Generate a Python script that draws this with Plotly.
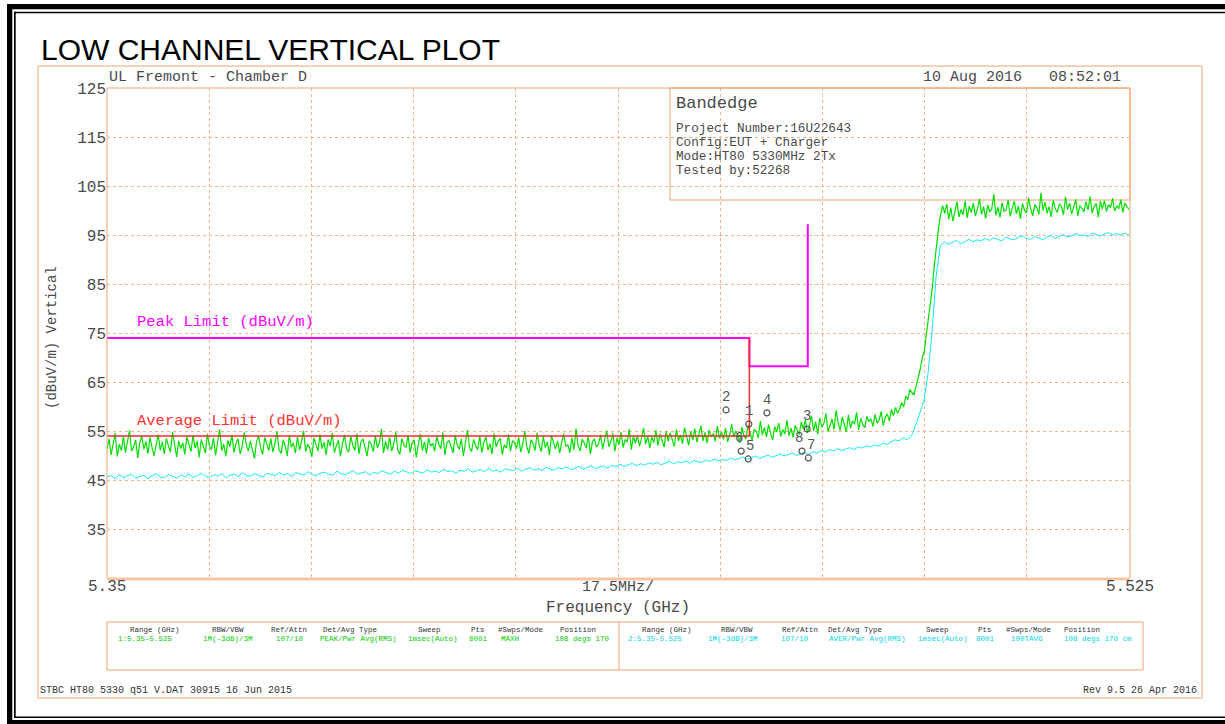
import plotly.graph_objects as go
import numpy as np

# ---------------- data ----------------
F_START, F_STOP = 5.35, 5.525

peak_trace = [
 51.2,53.4,50.1,52.8,54.6,49.8,52.3,51.0,53.9,50.6,52.7,55.1,50.9,51.8,53.2,49.5,52.6,54.0,51.3,52.9,
 50.4,53.7,51.6,49.9,52.2,54.3,51.1,52.8,50.3,53.5,51.9,50.7,54.8,52.1,49.7,53.0,51.4,52.6,50.2,53.8,
 52.4,50.8,54.1,51.5,52.9,49.6,53.3,51.7,50.5,54.4,52.0,51.2,53.6,50.0,52.7,55.3,51.0,52.3,49.8,53.1,
 51.8,54.2,50.6,52.5,53.4,50.3,51.9,54.7,52.2,50.9,53.0,51.3,49.4,52.8,54.0,51.6,50.2,53.7,52.1,51.0,
 53.5,50.7,52.4,54.9,51.2,50.4,53.2,52.0,49.9,54.1,51.7,52.6,50.5,53.8,51.1,52.9,55.0,50.8,52.3,51.5,
 49.7,53.6,52.2,50.9,54.3,51.4,52.7,50.1,53.3,51.9,54.6,50.6,52.0,53.1,49.8,52.5,54.2,51.3,50.7,53.9,
 52.1,51.0,54.5,50.3,52.8,53.4,51.6,49.9,53.0,52.3,50.8,54.0,51.5,52.6,55.4,50.5,52.9,51.2,53.7,50.9,
 52.4,54.8,51.1,50.2,53.5,52.0,51.7,54.1,50.6,52.7,53.2,49.6,52.2,54.4,51.0,52.8,50.4,53.6,51.9,52.5,
 50.9,53.9,52.3,51.4,54.7,50.1,52.6,53.1,51.8,50.5,54.2,52.1,51.3,53.4,49.9,52.9,55.2,51.6,50.8,53.3,
 52.0,51.2,54.0,50.6,52.7,53.8,51.1,52.4,50.3,54.5,51.7,52.9,53.5,50.2,52.2,51.5,54.3,50.9,53.0,52.6,
 51.4,53.7,50.7,52.3,55.0,51.8,50.4,53.2,52.5,51.0,54.6,52.1,50.8,53.9,51.6,52.8,50.1,54.1,52.4,51.3,
 53.0,50.5,52.7,54.4,51.9,52.2,50.6,53.6,51.2,55.5,52.0,50.9,53.3,52.6,51.5,54.0,50.3,52.8,53.4,51.7,
 52.4,54.2,51.3,53.0,55.1,51.8,52.9,54.5,50.9,53.6,52.2,54.8,51.6,53.3,52.7,55.4,51.2,53.9,52.5,54.1,
 51.9,53.5,55.6,52.3,54.0,51.5,53.8,52.6,55.2,52.0,54.4,53.1,51.7,55.0,52.9,54.6,53.4,51.8,55.3,53.0,
 54.2,52.4,55.7,53.6,52.1,54.9,53.2,55.5,52.7,54.3,56.1,53.0,54.7,52.5,55.2,53.8,54.5,52.9,56.0,53.5,
 54.8,53.3,55.6,52.8,54.1,56.4,53.7,55.0,54.3,52.6,55.8,54.0,53.4,56.2,54.6,53.1,55.4,54.9,53.6,57.0,
 54.2,55.7,53.8,56.3,54.5,53.2,55.9,54.8,56.6,53.9,55.3,54.4,57.2,54.0,55.6,53.7,56.1,55.0,54.3,56.8,
 55.4,57.3,54.6,56.2,58.1,55.0,56.9,54.3,57.7,55.8,56.5,58.6,54.9,56.1,57.4,55.3,59.2,56.7,55.1,57.9,
 56.0,54.8,58.3,55.6,57.1,56.4,58.8,55.2,57.6,56.3,55.7,58.0,56.9,57.5,55.9,58.4,56.6,57.2,59.0,56.1,
 57.8,58.5,57.0,59.4,58.1,59.8,58.6,
 59.5,60.8,59.9,62.1,61.4,63.5,62.8,62.4,63.9,65.8,67.5,69.8,71.2,74.5,77.2,80.6,84.4,89.0,93.2,96.4,
 99.1,101.0,
 99.4,101.3,98.2,100.6,97.8,99.9,101.8,98.7,100.2,99.1,102.0,98.5,100.9,99.6,101.5,98.9,100.3,102.4,99.2,100.8,
 98.4,101.1,99.7,100.4,103.3,99.0,100.7,98.6,101.6,99.8,100.1,102.2,98.8,100.5,101.9,99.3,100.9,98.3,101.4,100.0,
 99.5,102.6,100.3,98.9,101.2,100.6,99.2,103.6,100.0,101.7,99.4,100.8,98.7,102.1,100.4,99.6,101.3,100.9,99.1,102.8,
 100.2,101.5,99.3,100.7,102.3,98.9,101.0,100.5,99.7,101.8,100.1,102.9,99.5,100.8,101.4,98.6,101.9,100.3,102.0,99.8,
 101.2,100.6,102.5,99.9,101.0,100.4,102.2,99.6,101.5,100.8,100.2,
]

avg_trace = [
 45.6,45.9,45.3,46.1,45.5,45.8,46.2,45.4,45.7,46.0,45.2,45.9,46.3,45.6,45.5,46.1,45.8,45.4,46.0,45.7,
 46.2,45.5,45.9,46.4,45.7,45.6,46.1,45.8,46.3,45.5,46.0,46.2,45.7,46.5,45.9,45.8,46.3,46.0,45.6,46.4,
 46.1,45.9,46.6,46.0,46.3,45.8,46.5,46.2,46.0,46.7,46.1,45.9,46.4,46.6,46.2,46.0,46.8,46.3,46.1,46.5,
 46.9,46.2,46.4,46.7,46.0,46.6,46.3,46.9,46.5,46.2,46.8,46.4,47.0,46.6,46.3,46.9,46.7,46.4,47.1,46.6,
 46.8,46.5,47.2,46.7,46.9,46.4,47.0,46.8,47.3,46.6,46.9,47.1,46.7,47.4,46.8,47.0,46.6,47.3,47.1,46.9,
 47.4,46.8,47.2,47.5,47.0,47.3,46.9,47.6,47.2,47.0,47.5,47.3,47.7,47.1,47.4,47.8,47.2,47.5,47.9,47.3,
 47.6,47.9,47.4,48.0,47.7,48.2,47.8,48.1,48.4,47.9,48.3,48.0,48.5,48.2,48.6,48.1,48.4,48.8,48.3,48.7,
 48.5,48.9,48.4,49.0,48.7,48.6,49.1,48.8,49.3,48.9,49.2,49.0,49.5,49.1,49.4,49.7,49.2,49.6,49.9,49.4,
 49.8,50.1,49.6,50.0,50.3,49.9,50.2,50.5,50.0,50.4,
 50.6,50.2,50.8,50.5,51.0,50.7,51.2,50.9,51.4,51.0,51.3,51.6,51.2,51.8,51.5,52.0,51.7,52.2,51.9,52.5,
 52.3,52.8,53.2,53.0,53.6,
 53.2,54.0,56.2,58.5,61.0,66.5,75.0,86.5,92.8,93.6,93.1,
 93.5,93.9,93.2,93.7,94.1,93.6,94.0,93.8,94.3,93.9,94.4,94.1,93.8,94.6,94.2,94.0,94.5,94.8,94.3,94.1,
 94.7,94.4,94.0,94.6,94.9,94.3,94.7,95.1,94.6,94.8,95.3,94.9,95.0,94.7,95.4,95.1,94.8,95.2,95.5,95.0,
 95.3,95.1,95.4,95.0,
]

peak_limit_f = [5.35, 5.46, 5.46, 5.47, 5.47]
peak_limit_v = [74, 74, 68.2, 68.2, 97.2]
avg_limit_f = [5.35, 5.46, 5.46]
avg_limit_v = [54, 54, 74]

marker_ids = ["1", "2", "3", "4", "5", "6", "7", "8"]
marker_f = [5.4599, 5.4560, 5.4699, 5.4630, 5.4598, 5.4586, 5.4701, 5.4690]
marker_v = [56.4, 59.3, 55.4, 58.7, 49.3, 50.9, 49.5, 50.9]

y_ticks = [35, 45, 55, 65, 75, 85, 95, 105, 115, 125]
x_grid_step = 0.0175

table_headers = ["Range (GHz)", "RBW/VBW", "Ref/Attn", "Det/Avg Type", "Sweep", "Pts", "#Swps/Mode", "Position"]
table_row1 = ["1:5.35-5.525", "1M(-3dB)/3M", "107/10", "PEAK/Pwr Avg(RMS)", "1msec(Auto)", "8001", "MAXH", "108 degs 170"]
table_row2 = ["2:5.35-5.525", "1M(-3dB)/3M", "107/10", "AVER/Pwr Avg(RMS)", "1msec(Auto)", "8001", "100TAVG", "108 degs 170 cm"]

info_lines = ["Project Number:16U22643", "Config:EUT + Charger", "Mode:HT80 5330MHz 2Tx", "Tested by:52268"]

# ---------------- layout helpers ----------------
W, H = 1225, 724
L, R, T, B = 107, 1129, 88, 578


def px(x):
    return (x - L) / (R - L)


def py(y):
    return (B - y) / (B - T)


ORANGE = "#f0a470"
GRID = "#f2b48a"
GREEN = "#00e000"
CYAN = "#10ecf4"
MONO = "Liberation Mono, DejaVu Sans Mono, monospace"
TXT = "#4a4a4a"

peak_f = np.linspace(F_START, F_STOP, len(peak_trace))
avg_f = np.linspace(F_START, F_STOP, len(avg_trace))

fig = go.Figure()
fig.add_trace(go.Scatter(x=avg_f, y=avg_trace, mode="lines",
                         line=dict(color=CYAN, width=1), hoverinfo="skip"))
fig.add_trace(go.Scatter(x=peak_f, y=peak_trace, mode="lines",
                         line=dict(color=GREEN, width=1.2), hoverinfo="skip"))
fig.add_trace(go.Scatter(x=peak_limit_f, y=peak_limit_v, mode="lines",
                         line=dict(color="#ff00ff", width=2), hoverinfo="skip"))
fig.add_trace(go.Scatter(x=avg_limit_f, y=avg_limit_v, mode="lines",
                         line=dict(color="#ff2a2a", width=1.5), hoverinfo="skip"))
fig.add_trace(go.Scatter(x=marker_f, y=marker_v, mode="markers",
                         marker=dict(symbol="circle-open", size=6, color="#555555",
                                     line=dict(width=1.2)),
                         hoverinfo="skip"))

shapes = []
# Bandedge info box (covers grid, below traces)
shapes.append(dict(type="rect", xref="paper", yref="paper",
                   x0=px(670), x1=px(1130), y0=py(200), y1=py(88),
                   fillcolor="white", line=dict(color=ORANGE, width=1), layer="between"))
# plot borders
shapes.append(dict(type="line", xref="paper", yref="paper", x0=px(L), x1=px(R + 1), y0=py(T), y1=py(T),
                   line=dict(color=ORANGE, width=1)))
shapes.append(dict(type="line", xref="paper", yref="paper", x0=px(L), x1=px(L), y0=py(T), y1=py(B),
                   line=dict(color=ORANGE, width=1)))
shapes.append(dict(type="line", xref="paper", yref="paper", x0=px(R + 1), x1=px(R + 1), y0=py(T), y1=py(B),
                   line=dict(color=ORANGE, width=1)))
shapes.append(dict(type="line", xref="paper", yref="paper", x0=px(L), x1=px(R + 1), y0=py(B + 1), y1=py(B + 1),
                   line=dict(color="#f6c4a2", width=3)))
# outer orange frame
shapes.append(dict(type="rect", xref="paper", yref="paper", x0=px(38), x1=px(1202), y0=py(698), y1=py(66),
                   line=dict(color=ORANGE, width=1)))
# settings table box
shapes.append(dict(type="rect", xref="paper", yref="paper", x0=px(107), x1=px(1143), y0=py(670), y1=py(622),
                   line=dict(color=ORANGE, width=1)))
shapes.append(dict(type="line", xref="paper", yref="paper", x0=px(619), x1=px(619), y0=py(670), y1=py(622),
                   line=dict(color=ORANGE, width=1)))
# black page border
for (x0, x1, y0, y1) in [(7, 1226, 4, 9.3), (7, 12.3, 4, 725), (14, 1226, 11.7, 13.3), (14, 15.7, 11.7, 718),
                         (14, 1226, 716.5, 718), (7, 1226, 720, 725)]:
    shapes.append(dict(type="rect", xref="paper", yref="paper", x0=px(x0), x1=px(x1), y0=py(y1), y1=py(y0),
                       fillcolor="black", line=dict(width=0)))

ann = []

# marker number labels, anchored to the marker data positions
marker_xshift = [0, 0, 0, 0, 2, -2, 3, -3]
for mid, f, v, dx in zip(marker_ids, marker_f, marker_v, marker_xshift):
    ann.append(dict(x=f, y=v, xref="x", yref="y", text=mid, showarrow=False,
                    xanchor="center", yanchor="bottom", yshift=3, xshift=dx,
                    font=dict(family=MONO, size=14, color="#555555")))


def text(x, y, s, size, color=TXT, family=MONO, xa="left", ya="middle", angle=0):
    ann.append(dict(x=px(x), y=py(y), xref="paper", yref="paper", text=s, showarrow=False,
                    xanchor=xa, yanchor=ya, textangle=angle,
                    font=dict(family=family, size=size, color=color)))


text(39, 50, "LOW CHANNEL VERTICAL PLOT", 30, color="black", family="Liberation Sans, Arial, sans-serif")
text(107, 78, "UL Fremont - Chamber D", 15)
text(1123, 78, "10 Aug 2016   08:52:01", 15, xa="right")
text(52, 338, "(dBuV/m) Vertical", 14, angle=-90, xa="center")
text(135, 322, "Peak Limit (dBuV/m)", 15.5, color="#ff00ff")
text(135, 421, "Average Limit (dBuV/m)", 15.5, color="#ff3030")
text(107, 587, "5.35", 16, xa="center")
text(618, 587, "17.5MHz/", 15, xa="center")
text(1130, 587, "5.525", 16, xa="center")
text(618, 608, "Frequency (GHz)", 16, xa="center")
text(674, 103, "Bandedge", 17)
for i, s in enumerate(info_lines):
    text(674, 128 + 14 * i, s, 12.7)

left_cols = [155, 228, 289, 350, 429, 478, 520, 578]
left_vals = [145, 228, 290, 358, 433, 478, 510, 582]
right_cols = [667, 737, 800, 855, 937, 985, 1028, 1082]
right_vals = [655, 733, 795, 867, 943, 985, 1027, 1098]
for h, cx in zip(table_headers, left_cols):
    text(cx, 630, h, 7.5, color="#333333", xa="center")
for v, cx in zip(table_row1, left_vals):
    text(cx, 639, v, 7.5, color="#00cc00", xa="center")
for h, cx in zip(table_headers, right_cols):
    text(cx, 630, h, 7.5, color="#333333", xa="center")
for v, cx in zip(table_row2, right_vals):
    text(cx, 639, v, 7.5, color="#00d4e6", xa="center")

text(38, 690, "STBC HT80 5330 q51 V.DAT 30915 16 Jun 2015", 10, color="#333333")
text(1199, 690, "Rev 9.5 26 Apr 2016", 10, color="#333333", xa="right")

fig.update_layout(
    width=W, height=H,
    margin=dict(l=L, r=W - R, t=T, b=H - B, pad=0),
    paper_bgcolor="white", plot_bgcolor="white",
    showlegend=False,
    shapes=shapes, annotations=ann,
    xaxis=dict(range=[F_START, F_STOP], showticklabels=False, ticks="",
               tick0=F_START, dtick=x_grid_step,
               showgrid=True, gridcolor=GRID, griddash="dot", gridwidth=1,
               zeroline=False, showline=False, fixedrange=True),
    yaxis=dict(range=[25, 125], tickmode="array", tickvals=y_ticks,
               ticktext=[str(v) for v in y_ticks], ticks="",
               tickfont=dict(family=MONO, size=16, color=TXT),
               showgrid=True, gridcolor=GRID, griddash="dot", gridwidth=1,
               zeroline=False, showline=False, fixedrange=True),
)

fig.write_html("out.html", config={"displayModeBar": False},
               post_script="document.body.style.margin='0';document.body.style.overflow='hidden';")
